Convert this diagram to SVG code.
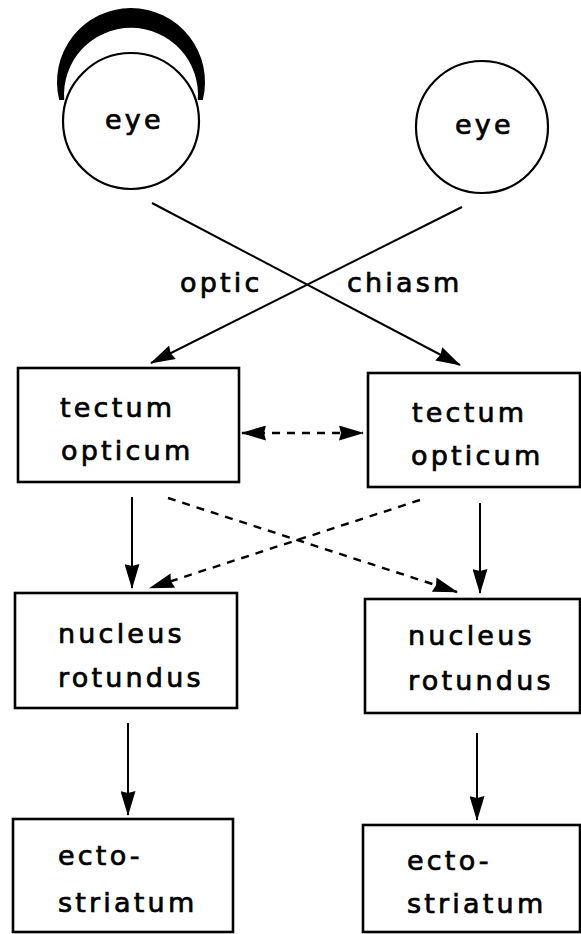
<svg xmlns="http://www.w3.org/2000/svg" width="581" height="934" viewBox="0 0 581 934">
<style>
.box{fill:#fff;stroke:#000;stroke-width:2.6}
.circ{fill:#fff;stroke:#000;stroke-width:2.2}
.t{font-family:"DejaVu Sans",sans-serif;font-size:27px;letter-spacing:3.2px;fill:#000;stroke:#000;stroke-width:0.7}
.ln{stroke:#000;stroke-width:2;fill:none}
.dash{stroke:#000;stroke-width:2.4;fill:none;stroke-dasharray:8 7}
</style>
<defs>
<marker id="ah" markerUnits="userSpaceOnUse" markerWidth="25" markerHeight="15" refX="24" refY="7.5" orient="auto-start-reverse">
<path d="M0,0 L25,7.5 L0,15 L2,7.5 z" fill="#000"/>
</marker>
</defs>
<rect width="581" height="934" fill="#fff"/>
<g id="eye-left">
<path d="M59.2,100 A74,74 0 1 1 202.8,100 L197.8,100 A67,67 0 1 0 64.2,100 Z" fill="#000"/>
<circle class="circ" cx="131" cy="121" r="68"/>
<text class="t" x="105" y="129">eye</text>
</g>
<g id="eye-right">
<circle class="circ" cx="482" cy="127" r="66"/>
<text class="t" x="455" y="134">eye</text>
</g>
<g id="chiasm-label">
<text class="t" x="180" y="292">optic</text>
<text class="t" x="347" y="292">chiasm</text>
</g>
<g id="tectum-left">
<rect class="box" x="18" y="368" width="221" height="114"/>
<text class="t" x="60" y="417">tectum</text>
<text class="t" x="61" y="460">opticum</text>
</g>
<g id="tectum-right">
<rect class="box" x="368" y="373" width="212" height="114"/>
<text class="t" x="412" y="422">tectum</text>
<text class="t" x="411" y="465">opticum</text>
</g>
<g id="nucleus-left">
<rect class="box" x="15" y="593" width="222" height="115"/>
<text class="t" x="58" y="643">nucleus</text>
<text class="t" x="58" y="687">rotundus</text>
</g>
<g id="nucleus-right">
<rect class="box" x="365" y="599" width="215" height="114"/>
<text class="t" x="408" y="645">nucleus</text>
<text class="t" x="408" y="690">rotundus</text>
</g>
<g id="ecto-left">
<rect class="box" x="13" y="819" width="220" height="113"/>
<text class="t" x="58" y="865">ecto-</text>
<text class="t" x="58" y="912">striatum</text>
</g>
<g id="ecto-right">
<rect class="box" x="363" y="825" width="217" height="107"/>
<text class="t" x="407" y="870">ecto-</text>
<text class="t" x="407" y="913">striatum</text>
</g>
<g id="connectors">
<line class="ln" x1="152" y1="203" x2="460" y2="365" marker-end="url(#ah)"/>
<line class="ln" x1="462" y1="207" x2="151" y2="363" marker-end="url(#ah)"/>
<line class="dash" x1="242" y1="433" x2="363" y2="433" marker-start="url(#ah)" marker-end="url(#ah)"/>
<line class="ln" x1="132" y1="497" x2="132" y2="588" marker-end="url(#ah)"/>
<line class="ln" x1="480" y1="503" x2="480" y2="593" marker-end="url(#ah)"/>
<line class="dash" x1="168" y1="498" x2="457" y2="592" marker-end="url(#ah)"/>
<line class="dash" x1="420" y1="500" x2="150" y2="588" marker-end="url(#ah)"/>
<line class="ln" x1="128" y1="723" x2="128" y2="815" marker-end="url(#ah)"/>
<line class="ln" x1="477" y1="733" x2="477" y2="820" marker-end="url(#ah)"/>
</g>
</svg>
